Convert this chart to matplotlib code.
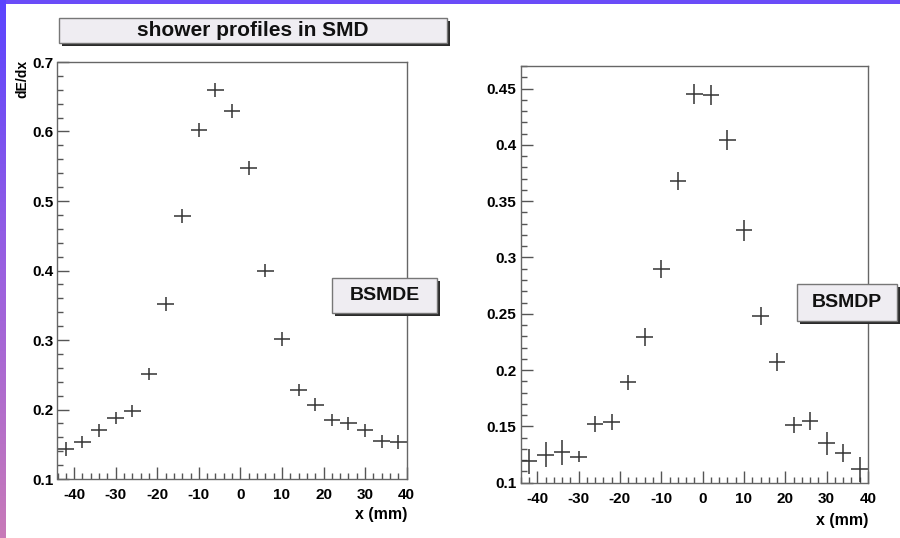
"""Shower profiles in SMD: BSMDE / BSMDP dE/dx vs x."""
import numpy as np
import matplotlib
matplotlib.use("Agg")
import matplotlib.pyplot as plt
from matplotlib.patches import Rectangle
from matplotlib.ticker import MultipleLocator, FuncFormatter

plt.rcParams["font.family"] = ["Liberation Sans", "DejaVu Sans"]
plt.rcParams["font.weight"] = "bold"
plt.rcParams["axes.unicode_minus"] = False

# bin centres (mm), bin half-width 2 mm
x_mm = [-42, -38, -34, -30, -26, -22, -18, -14, -10, -6, -2,
        2, 6, 10, 14, 18, 22, 26, 30, 34, 38]

bsmde = [0.143, 0.153, 0.170, 0.188, 0.198, 0.251, 0.352, 0.478, 0.602, 0.660, 0.630,
         0.548, 0.400, 0.301, 0.228, 0.207, 0.185, 0.180, 0.170, 0.154, 0.153]
bsmde_err = [0.010, 0.009, 0.009, 0.009, 0.009, 0.009, 0.010, 0.010, 0.010, 0.010, 0.010,
             0.010, 0.010, 0.010, 0.009, 0.009, 0.009, 0.009, 0.009, 0.010, 0.010]

bsmdp = [0.119, 0.125, 0.127, 0.123, 0.152, 0.154, 0.189, 0.229, 0.290, 0.368, 0.445,
         0.444, 0.404, 0.324, 0.248, 0.207, 0.151, 0.155, 0.135, 0.126, 0.112]
bsmdp_err = [0.011, 0.011, 0.011, 0.005, 0.007, 0.007, 0.007, 0.008, 0.008, 0.008, 0.009,
             0.009, 0.009, 0.009, 0.008, 0.008, 0.007, 0.008, 0.010, 0.008, 0.011]

W, H = 900, 538
fig = plt.figure(figsize=(W / 100, H / 100), dpi=100)
fig.patch.set_facecolor("white")


def fx(px):
    return px / W


def fy(py):
    return 1 - py / H


def axes_px(x0, y0, x1, y1):
    return [fx(x0), fy(y1), (x1 - x0) / W, (y1 - y0) / H]


# purple frame of the slide: top strip and left gradient strip
top = fig.add_axes(axes_px(0, 0, W, 4))
top.axis("off")
top.add_patch(Rectangle((0, 0), 1, 1, color="#6a4cf8", transform=top.transAxes))
side = fig.add_axes(axes_px(0, 0, 6, H))
side.axis("off")
grad = np.linspace(0, 1, 256)[:, None]
cmap = matplotlib.colors.LinearSegmentedColormap.from_list(
    "band", ["#5a44ff", "#9a60e0", "#c87ab8"])
side.imshow(grad, aspect="auto", cmap=cmap, extent=[0, 1, 1, 0])
side.set_xlim(0, 1)
side.set_ylim(1, 0)


def style_axes(ax, ymajor, yminor):
    ax.set_xlim(-44, 40)
    ax.xaxis.set_major_locator(MultipleLocator(10))
    ax.xaxis.set_minor_locator(MultipleLocator(2))
    ax.yaxis.set_major_locator(MultipleLocator(ymajor))
    ax.yaxis.set_minor_locator(MultipleLocator(yminor))
    ax.yaxis.set_major_formatter(FuncFormatter(lambda v, p: f"{v:g}"))
    ax.xaxis.set_major_formatter(FuncFormatter(lambda v, p: f"{v:g}"))
    ax.tick_params(which="both", direction="in", color="#555555", width=1.0)
    ax.tick_params(which="major", length=8.5)
    ax.tick_params(which="minor", length=4.3)
    ax.tick_params(axis="x", which="major", pad=6.5, labelsize=11)
    ax.tick_params(axis="y", which="major", pad=3, labelsize=11)
    for lab in ax.get_xticklabels() + ax.get_yticklabels():
        lab.set_fontweight("bold")
    for s in ax.spines.values():
        s.set_color("#666666")
        s.set_linewidth(1.0)


def label_box(x0, y0, x1, y1, text, size):
    fig.patches.append(Rectangle((fx(x0 + 3), fy(y1 + 3)), (x1 - x0) / W, (y1 - y0) / H,
                                 transform=fig.transFigure, facecolor="#2a2a2a",
                                 edgecolor="none", zorder=5))
    fig.patches.append(Rectangle((fx(x0), fy(y1)), (x1 - x0) / W, (y1 - y0) / H,
                                 transform=fig.transFigure, facecolor="#efedf2",
                                 edgecolor="#777777", linewidth=1.0, zorder=6))
    fig.text(fx((x0 + x1) / 2), fy((y0 + y1) / 2), text, ha="center", va="center",
             fontsize=size, fontweight="bold", color="#111111", zorder=7)


# left panel: BSMDE
ax1 = fig.add_axes(axes_px(57.5, 62, 406.7, 479))
ax1.errorbar(x_mm, bsmde, xerr=2, yerr=bsmde_err, fmt="none",
             ecolor="#333333", elinewidth=1.1, capsize=0)
ax1.set_ylim(0.1, 0.7)
style_axes(ax1, 0.1, 0.02)

# right panel: BSMDP
ax2 = fig.add_axes(axes_px(520.7, 66, 868, 482.7))
ax2.errorbar(x_mm, bsmdp, xerr=2, yerr=bsmdp_err, fmt="none",
             ecolor="#333333", elinewidth=1.1, capsize=0)
ax2.set_ylim(0.1, 0.47)
style_axes(ax2, 0.05, 0.01)

# axis titles
fig.text(fx(22), fy(60), "dE/dx", rotation=90, ha="center", va="top",
         fontsize=10, fontweight="bold")
fig.text(fx(407), fy(515), "x (mm)", ha="right", va="center",
         fontsize=11.5, fontweight="bold")
fig.text(fx(868), fy(520), "x (mm)", ha="right", va="center",
         fontsize=11.5, fontweight="bold")

# title and legend boxes
label_box(59, 18, 447, 43, "shower profiles in SMD", 15)
label_box(332, 278, 437, 313, "BSMDE", 14)
label_box(797, 284, 897, 321, "BSMDP", 14)

fig.savefig("out.png", dpi=100, facecolor=fig.get_facecolor())
print("Wrote out.png")
